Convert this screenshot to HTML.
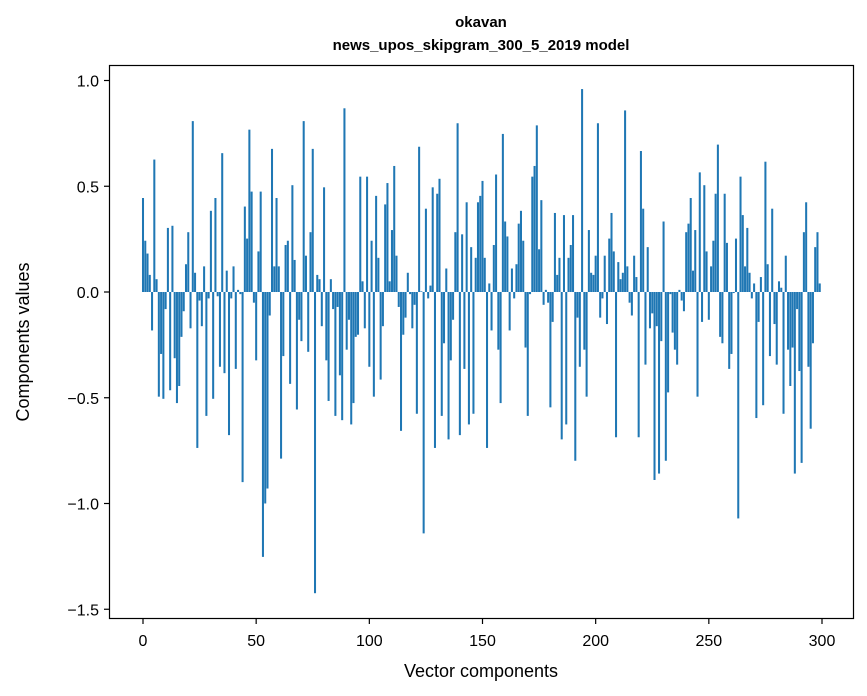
<!DOCTYPE html>
<html><head><meta charset="utf-8"><style>
html,body{margin:0;padding:0;background:#fff;}
svg{display:block;font-family:"Liberation Sans","DejaVu Sans",sans-serif;}
</style></head><body>
<svg id="chart" width="867" height="696" viewBox="0 0 867 696">
<text x="481" y="27" text-anchor="middle" font-size="15" font-weight="bold">okavan</text>
<text x="481" y="50" text-anchor="middle" font-size="15" font-weight="bold">news_upos_skipgram_300_5_2019 model</text>
<g id="bars"></g>
<rect x="109.5" y="65.5" width="744" height="553" fill="none" stroke="#000" stroke-width="1.2"/>
<g id="xticks"></g>
<g id="yticks"></g>
<text x="481" y="677" text-anchor="middle" font-size="18">Vector components</text>
<text transform="translate(29,342) rotate(-90)" text-anchor="middle" font-size="18">Components values</text>
</svg>
<script>
const values = [0.44,0.24,0.18,0.08,-0.18,0.62,0.06,-0.49,-0.29,-0.50,
-0.08,0.30,-0.46,0.31,-0.31,-0.52,-0.44,-0.21,-0.09,0.13,
0.28,-0.17,0.80,0.09,-0.73,-0.04,-0.16,0.12,-0.58,-0.03,
0.38,-0.50,0.44,-0.02,-0.35,0.65,-0.38,0.10,-0.67,-0.03,
0.12,-0.36,0.01,-0.01,-0.89,0.40,0.25,0.76,0.47,-0.05,
-0.32,0.19,0.47,-1.24,-0.99,-0.92,-0.11,0.67,0.12,0.44,
0.12,-0.78,-0.30,0.22,0.24,-0.43,0.50,0.15,-0.55,-0.13,
-0.23,0.80,0.17,-0.28,0.28,0.67,-1.41,0.08,0.06,-0.16,
0.49,-0.32,-0.51,0.06,-0.08,-0.58,-0.07,-0.39,-0.60,0.86,
-0.27,-0.13,-0.62,-0.52,-0.21,-0.20,0.54,0.05,-0.17,0.54,
-0.35,0.24,-0.49,0.45,0.16,-0.41,-0.16,0.41,0.51,0.05,
0.29,0.59,0.17,-0.07,-0.65,-0.20,-0.12,0.09,-0.01,-0.17,
-0.06,-0.57,0.68,0.003,-1.13,0.39,-0.03,0.03,0.49,-0.73,
0.46,0.53,-0.58,-0.24,0.11,-0.69,-0.32,-0.13,0.28,0.79,
-0.67,0.27,-0.36,0.42,-0.62,0.21,-0.57,0.16,0.42,0.45,
0.52,0.16,-0.73,0.04,-0.18,0.22,0.55,-0.27,-0.52,0.74,
0.33,0.26,-0.18,0.11,-0.03,0.13,0.32,0.38,0.24,-0.26,
-0.58,-0.01,0.54,0.59,0.78,0.20,0.43,-0.06,0.01,-0.05,
-0.54,-0.14,0.37,0.08,0.16,-0.69,0.36,-0.62,0.16,0.22,
0.36,-0.79,-0.12,-0.35,0.95,-0.27,-0.49,0.29,0.09,0.08,
0.17,0.79,-0.12,-0.03,0.17,-0.15,0.25,0.37,0.19,-0.68,
0.14,0.06,0.09,0.85,0.12,-0.05,-0.11,0.17,0.07,-0.68,
0.66,0.39,-0.34,0.21,-0.17,-0.10,-0.88,-0.16,-0.85,-0.23,
0.33,-0.79,-0.47,-0.01,-0.19,-0.27,-0.34,0.01,-0.04,-0.09,
0.28,0.32,0.44,0.10,0.29,-0.49,0.56,-0.14,0.50,0.19,
-0.13,0.12,0.24,0.46,0.69,-0.21,-0.24,0.46,0.23,-0.36,
-0.29,-0.005,0.25,-1.06,0.54,0.36,0.12,0.30,0.09,-0.03,
0.04,-0.59,-0.14,0.07,-0.53,0.61,0.13,-0.30,0.39,-0.15,
-0.34,0.05,0.02,-0.57,0.17,-0.27,-0.44,-0.26,-0.85,-0.08,
-0.37,-0.80,0.28,0.42,-0.35,-0.64,-0.24,0.21,0.28,0.04];
const xTickValues = [0,50,100,150,200,250,300];
const yTickValues = [1.0,0.5,0.0,-0.5,-1.0,-1.5];
const yTickLabels = ["1.0","0.5","0.0","\u22120.5","\u22121.0","\u22121.5"];

const NS = "http://www.w3.org/2000/svg";
function xScale(v){ return 143 + v * (679/300); }
function yScale(v){ return 292 - v * 211.5; }

const barsG = document.getElementById('bars');
values.forEach(function(v, i){
  const r = document.createElementNS(NS, 'rect');
  const x0 = xScale(i - 0.45), x1 = xScale(i + 0.45);
  const y0 = Math.min(yScale(0), yScale(v * 1.01)), h = Math.abs(yScale(v * 1.01) - yScale(0));
  r.setAttribute('x', x0);
  r.setAttribute('width', x1 - x0);
  r.setAttribute('y', y0);
  r.setAttribute('height', Math.max(h, 0.3));
  r.setAttribute('fill', '#1f77b4');
  
  
  barsG.appendChild(r);
});

const xg = document.getElementById('xticks');
xTickValues.forEach(function(t){
  const x = xScale(t);
  const l = document.createElementNS(NS, 'line');
  l.setAttribute('x1', x); l.setAttribute('x2', x);
  l.setAttribute('y1', 618.5); l.setAttribute('y2', 624);
  l.setAttribute('stroke', '#000'); l.setAttribute('stroke-width', '1.2');
  
  
  xg.appendChild(l);
  const tx = document.createElementNS(NS, 'text');
  tx.setAttribute('x', x); tx.setAttribute('y', 646);
  tx.setAttribute('text-anchor', 'middle'); tx.setAttribute('font-size', '16');
  tx.textContent = String(t);
  
  
  xg.appendChild(tx);
});

const yg = document.getElementById('yticks');
yTickValues.forEach(function(t, i){
  const y = yScale(t);
  const l = document.createElementNS(NS, 'line');
  l.setAttribute('x1', 104); l.setAttribute('x2', 109.5);
  l.setAttribute('y1', y); l.setAttribute('y2', y);
  l.setAttribute('stroke', '#000'); l.setAttribute('stroke-width', '1.2');
  
  
  yg.appendChild(l);
  const tx = document.createElementNS(NS, 'text');
  tx.setAttribute('x', 99); tx.setAttribute('y', y + 6);
  tx.setAttribute('text-anchor', 'end'); tx.setAttribute('font-size', '16');
  tx.textContent = yTickLabels[i];
  
  
  yg.appendChild(tx);
});
</script>
</body></html>
